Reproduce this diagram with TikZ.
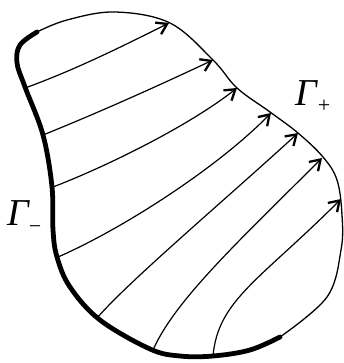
\documentclass[tikz,border=0pt]{standalone}
\usepackage{fontspec}
\newfontfamily\labfont{Liberation Serif}
\usetikzlibrary{arrows.meta}
\tikzset{
  thinb/.style={line width=1.3pt},
  thickb/.style={line width=4.8pt, line cap=round, line join=round},
  flow/.style={line width=1.2pt, -{Straight Barb[length=10pt,width=13pt,line width=2.3pt]}},
  lbl/.style={inner sep=0pt, anchor=base west}
}
\begin{document}
\begin{tikzpicture}[x=1pt,y=-1pt]
\useasboundingbox (0,0) rectangle (343,363);
% boundary
\draw[thinb] plot[smooth, tension=0.6] coordinates {(37,32) (67,20) (115,12) (170,23) (213,60) (237,88) (270,112) (298,133) (323,157) (337,180) (342,215) (341,250) (327,297) (280,337)};
\draw[thickb] plot[smooth, tension=0.6] coordinates {(280,337) (250,350) (213,356) (180,356) (150,349) (100,320) (70,287) (57,257) (53,230) (52,187) (43,135) (25,87) (17,63) (20,45) (37,32)};
% flow line ends
\coordinate (s1) at (25,88);   \coordinate (e1) at (169,23);
\coordinate (s2) at (43,135);  \coordinate (e2) at (213,60);
\coordinate (s3) at (53,187);  \coordinate (e3) at (237,88);
\coordinate (s4) at (58,257);  \coordinate (e4) at (271,113);
\coordinate (s5) at (97,318);  \coordinate (e5) at (298,133);
\coordinate (s6) at (153,350); \coordinate (e6) at (322,158);
\coordinate (s7) at (213,356); \coordinate (e7) at (341,199);
\draw[flow] (s1) .. controls (75,70) and (125,45) .. (e1);
\draw[flow] (s2) .. controls (100,112) and (160,85) .. (e2);
\draw[flow] (s3) .. controls (110,165) and (190,125) .. (e3);
\draw[flow] (s4) .. controls (120,230) and (215,170) .. (e4);
\draw[flow] (s5) .. controls (130,280) and (225,200) .. (e5);
\draw[flow] (s6) .. controls (175,300) and (240,240) .. (e6);
\draw[flow] (s7) .. controls (218,300) and (260,280) .. (e7);
% labels
\node[lbl] (gp) at (295,106) {\labfont\itshape\fontsize{38}{38}\selectfont Γ\kern1pt\raisebox{-7pt}{\fontsize{22}{22}\selectfont\upshape +}};
\node[lbl] (gm) at (7,225) {\labfont\itshape\fontsize{38}{38}\selectfont Γ\raisebox{-8pt}{\fontsize{22}{22}\selectfont\upshape −}};
\end{tikzpicture}
\end{document}
